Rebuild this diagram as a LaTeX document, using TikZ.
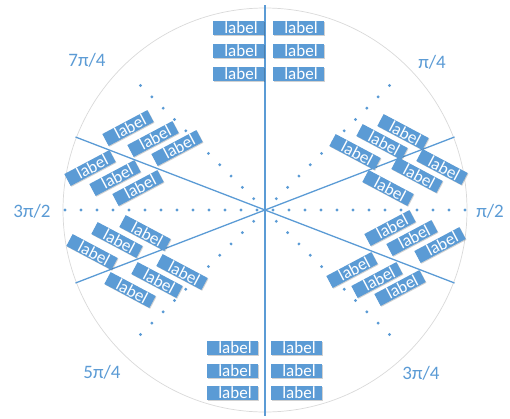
\documentclass[tikz,border=0pt]{standalone}
\usepackage{fontspec}
\setmainfont{Carlito}
\usetikzlibrary{shadows}
\definecolor{acc}{HTML}{5B9BD5}
\tikzset{
  lbl/.style={fill=acc, text=white, minimum width=51pt, minimum height=13.5pt, inner sep=0pt,
    font=\fontsize{17}{17}\selectfont,
    drop shadow={opacity=0.18, fill=black, shadow xshift=0.8pt, shadow yshift=-0.8pt}},
  ang/.style={text=acc, font=\fontsize{19}{19}\selectfont, inner sep=0pt},
  axisline/.style={draw=acc, line width=1.3pt},
  ring/.style={draw=black!15, line width=0.7pt}
}
\newcommand{\lt}{\hspace*{5pt}label}
\begin{document}
\begin{tikzpicture}[x=1pt,y=-1pt]
\useasboundingbox (0,0) rectangle (510,418);
\coordinate (c) at (265,210);
\draw[ring] (c) circle (202);
% dots
\foreach \k in {0,...,12} {
  \fill[acc] ({265+8+16*\k},210) circle (1.6);
  \fill[acc] ({265-8-16*\k},210) circle (1.6);
}
\foreach \k in {1,...,11} {
  \fill[acc] ({265+11.314*\k},{210+11.314*\k}) circle (1.6);
  \fill[acc] ({265-11.314*\k},{210+11.314*\k}) circle (1.6);
  \fill[acc] ({265+11.314*\k},{210-11.314*\k}) circle (1.6);
  \fill[acc] ({265-11.314*\k},{210-11.314*\k}) circle (1.6);
}
% lines
\coordinate (vt) at (265,5);
\coordinate (vb) at (265,416);
\coordinate (la) at ({265-189.5},{210-73});
\coordinate (lb) at ({265+189.5},{210+73});
\coordinate (ma) at ({265-189.5},{210+73});
\coordinate (mb) at ({265+189.5},{210-73});
\draw[axisline] (vt) -- (vb);
\draw[axisline] (la) -- (lb);
\draw[axisline] (ma) -- (mb);
% top labels
\node[lbl] (t1) at (238.5,28) {\lt};
\node[lbl] (t2) at (238.5,51) {\lt};
\node[lbl] (t3) at (238.5,74) {\lt};
\node[lbl] (t4) at (298.5,28) {\lt};
\node[lbl] (t5) at (298.5,51) {\lt};
\node[lbl] (t6) at (298.5,74) {\lt};
% bottom labels
\node[lbl] (b1) at (232.5,348) {\lt};
\node[lbl] (b2) at (232.5,371) {\lt};
\node[lbl] (b3) at (232.5,393) {\lt};
\node[lbl] (b4) at (296.5,348) {\lt};
\node[lbl] (b5) at (296.5,371) {\lt};
\node[lbl] (b6) at (296.5,393) {\lt};
% upper-left cluster
\node[lbl, rotate=28] (ul1) at (128,128) {\lt};
\node[lbl, rotate=28] (ul2) at (153,139) {\lt};
\node[lbl, rotate=28] (ul3) at (177,148) {\lt};
\node[lbl, rotate=28] (ul4) at (90,168) {\lt};
\node[lbl, rotate=28] (ul5) at (115,178) {\lt};
\node[lbl, rotate=28] (ul6) at (138,188) {\lt};
% lower-left cluster
\node[lbl, rotate=-28] (ll1) at (145,233) {\lt};
\node[lbl, rotate=-28] (ll2) at (117,240) {\lt};
\node[lbl, rotate=-28] (ll3) at (92,252) {\lt};
\node[lbl, rotate=-28] (ll4) at (182,272) {\lt};
\node[lbl, rotate=-28] (ll5) at (157,280) {\lt};
\node[lbl, rotate=-28] (ll6) at (130,290) {\lt};
% upper-right cluster
\node[lbl, rotate=-28] (ur1) at (403,132) {\lt};
\node[lbl, rotate=-28] (ur2) at (382,142) {\lt};
\node[lbl, rotate=-28] (ur3) at (355,152) {\lt};
\node[lbl, rotate=-28] (ur4) at (442,167) {\lt};
\node[lbl, rotate=-28] (ur5) at (417,175) {\lt};
\node[lbl, rotate=-28] (ur6) at (388,188) {\lt};
% lower-right cluster
\node[lbl, rotate=28] (lr1) at (390,228) {\lt};
\node[lbl, rotate=28] (lr2) at (412,238) {\lt};
\node[lbl, rotate=28] (lr3) at (440,245) {\lt};
\node[lbl, rotate=28] (lr4) at (352,270) {\lt};
\node[lbl, rotate=28] (lr5) at (377,280) {\lt};
\node[lbl, rotate=28] (lr6) at (400,288) {\lt};
% angle labels
\node[ang] (a74) at (87,60) {7π/4};
\node[ang] (a14) at (432,62) {π/4};
\node[ang] (a32) at (32,211) {3π/2};
\node[ang] (a12) at (490,211) {π/2};
\node[ang] (a54) at (102,372) {5π/4};
\node[ang] (a34) at (421,373) {3π/4};
\end{tikzpicture}
\end{document}
